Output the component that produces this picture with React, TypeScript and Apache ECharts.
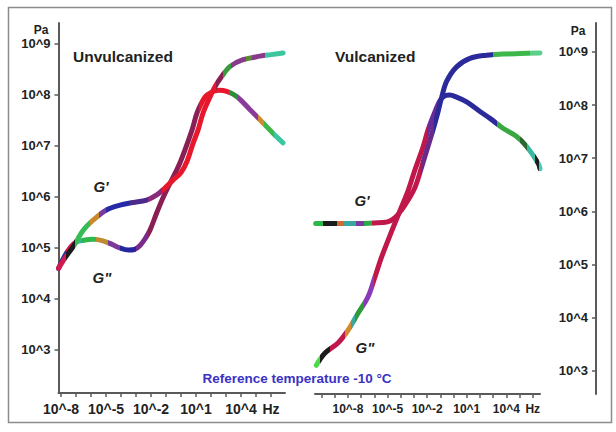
import React, { useEffect, useRef } from 'react';
import * as echarts from 'echarts';

// All values are exponents: [log10(frequency / Hz), log10(modulus / Pa)].
const unvulcGp: [number, number][] = [
  [-8.17, 4.6], [-7.7, 4.82], [-7.18, 5.03], [-6.51, 5.35], [-5.85, 5.55], [-4.95, 5.75],
  [-4.07, 5.84], [-3.2, 5.89], [-2.29, 5.94], [-1.62, 6.04], [-1.07, 6.18], [-0.53, 6.33],
  [0.0, 6.48], [0.4, 6.7], [0.8, 7.05], [1.13, 7.31], [1.47, 7.65], [1.93, 7.96], [2.3, 8.18],
  [2.71, 8.36], [3.27, 8.56], [4.13, 8.69], [5.27, 8.76], [6.0, 8.79], [6.8, 8.82],
];
const unvulcGpp: [number, number][] = [
  [-8.17, 4.6], [-7.6, 4.92], [-7.07, 5.1], [-6.5, 5.15], [-5.85, 5.17], [-5.2, 5.14],
  [-4.6, 5.07], [-4.07, 5.0], [-3.5, 4.96], [-3.1, 4.97], [-2.73, 5.05], [-2.4, 5.18],
  [-2.07, 5.35], [-1.62, 5.69], [-1.18, 6.0], [-0.73, 6.27], [-0.07, 6.67], [0.73, 7.31],
  [1.07, 7.65], [1.6, 7.96], [2.0, 8.05], [2.5, 8.09], [3.05, 8.07], [3.71, 7.97],
  [4.6, 7.71], [5.47, 7.45], [6.13, 7.25], [6.8, 7.06],
];
const vulcGp: [number, number][] = [
  [-10.45, 5.77], [-9.0, 5.77], [-7.5, 5.77], [-6.0, 5.78], [-5.0, 5.8], [-4.44, 5.88],
  [-3.93, 6.03], [-3.43, 6.22], [-2.92, 6.45], [-2.4, 6.85], [-1.94, 7.22], [-1.56, 7.53],
  [-1.2, 7.85], [-0.9, 8.15], [-0.52, 8.45], [0.23, 8.72], [1.24, 8.88], [2.5, 8.94],
  [3.76, 8.96], [5.0, 8.97], [6.55, 8.98],
];
const vulcGpp: [number, number][] = [
  [-10.4, 3.1], [-9.74, 3.33], [-8.76, 3.52], [-8.0, 3.76], [-7.24, 4.08], [-6.48, 4.39],
  [-5.95, 4.77], [-5.45, 5.14], [-4.95, 5.46], [-4.44, 5.78], [-3.93, 6.09], [-3.43, 6.4],
  [-2.9, 6.8], [-2.3, 7.22], [-1.94, 7.53], [-1.4, 7.88], [-1.0, 8.1], [-0.6, 8.18],
  [-0.3, 8.19], [0.23, 8.15], [0.99, 8.06], [2.0, 7.88], [2.76, 7.75], [3.77, 7.56],
  [4.78, 7.41], [5.54, 7.22], [6.42, 6.9], [6.55, 6.8],
];

// Axis ticks (exponents)
const xTicksLeft = [-8, -7, -6, -5, -4, -3, -2, -1, 0, 1, 2, 3, 4, 5, 6];
const xTicksRight = [-10, -9, -8, -7, -6, -5, -4, -3, -2, -1, 0, 1, 2, 3, 4, 5, 6];
const xLabelValues = [-8, -5, -2, 1, 4, 6];
const yTickValues = [3, 4, 5, 6, 7, 8, 9];

// Colour bands along each master curve: [from logf, to logf, colour]
const colUGp: [number, number, string][] = [
  [-20, -7.7, '#d21a4f'], [-7.7, -7.1, '#1c1c1c'], [-7.1, -6.1, '#36bb55'], [-6.1, -5.5, '#c98a2c'],
  [-5.5, -5.0, '#7a3aa0'], [-5.0, -3.4, '#262aa8'], [-3.4, -2.2, '#4a2a8a'], [-2.2, -1.3, '#8a2a7a'],
  [-1.3, 2.3, '#e8182c'], [2.3, 2.8, '#8a2050'], [2.8, 3.3, '#3a9a40'], [3.3, 4.3, '#8a3a8a'],
  [4.3, 4.7, '#5a8a30'], [4.7, 5.6, '#8a3a8a'], [5.6, 20, '#3cc6a0'],
];
const colUGpp: [number, number, string][] = [
  [-20, -7.7, '#2a2aa8'], [-7.7, -7.2, '#d21a4f'], [-7.2, -6.7, '#3ab8a0'], [-6.7, -5.7, '#2fb84a'],
  [-5.7, -4.9, '#c08a30'], [-4.9, -4.1, '#7a3a9a'], [-4.1, -3.0, '#2426a0'], [-3.0, -2.2, '#7a2a8a'],
  [-2.2, 1.2, '#8a1f55'], [1.2, 3.2, '#e8182c'], [3.2, 3.8, '#2e8f3a'], [3.8, 5.1, '#8a3a9a'],
  [5.1, 5.5, '#d08a30'], [5.5, 6.2, '#3cb84a'], [6.2, 20, '#3cc6a0'],
];
const colVGp: [number, number, string][] = [
  [-20, -9.9, '#2fb84a'], [-9.9, -8.8, '#1c1c1c'], [-8.8, -8.3, '#d06a30'], [-8.3, -7.4, '#3aa8a0'],
  [-7.4, -6.8, '#7a3aa0'], [-6.8, -6.2, '#2fa84a'], [-6.2, -2.5, '#c0184a'], [-2.5, -1.5, '#6a2a8a'],
  [-1.5, 3.0, '#2a2a9a'], [3.0, 5.8, '#3cb84a'], [5.8, 20, '#5cd08a'],
];
const colVGpp: [number, number, string][] = [
  [-20, -10.1, '#4cd84a'], [-10.1, -9.4, '#1c1c1c'], [-9.4, -8.2, '#c0184a'], [-8.2, -7.8, '#d08a30'],
  [-7.8, -7.5, '#3aa8a0'], [-7.5, -6.8, '#2e9a3a'], [-6.8, -6.0, '#8a3ab4'], [-6.0, -2.0, '#c0184a'],
  [-2.0, -1.0, '#6a2a9a'], [-1.0, 3.3, '#2a2a9a'], [3.3, 5.0, '#3aa840'], [5.0, 5.6, '#2a6a30'],
  [5.6, 6.2, '#3ab8a0'], [6.2, 6.5, '#1c1c1c'], [6.5, 20, '#4ac8c0'],
];

const FONT = '"Liberation Sans", Arial, Helvetica, sans-serif';
const AXIS_COLOR = '#5a5a5a';
const LABEL_COLOR = '#222';

const fmtX = (v: number) => (v === 6 ? 'Hz' : '10^' + v);
const fmtY = (v: number) => '10^' + v;

export default function App() {
  const ref = useRef<HTMLDivElement>(null);
  useEffect(() => {
    if (!ref.current) return;
    const chart = echarts.init(ref.current, undefined, { renderer: 'svg' });

    const axisLine = { show: true, onZero: false, lineStyle: { color: AXIS_COLOR, width: 2 } };
    const tickStyle = { color: AXIS_COLOR, width: 1.5 };

    const curves = [
      { data: unvulcGpp, cols: colUGpp, grid: 0 },
      { data: unvulcGp, cols: colUGp, grid: 0 },
      { data: vulcGpp, cols: colVGpp, grid: 1 },
      { data: vulcGp, cols: colVGp, grid: 1 },
    ];

    const text = (x: number, y: number, t: string, size: number, opts: any = {}) => ({
      type: 'text',
      x,
      y,
      silent: true,
      style: {
        text: t,
        font: `${opts.italic ? 'italic ' : ''}bold ${size}px ${FONT}`,
        fill: opts.fill || LABEL_COLOR,
        align: opts.align || 'center',
        verticalAlign: 'middle',
      },
    });

    chart.setOption({
      animation: false,
      backgroundColor: '#fff',
      grid: [
        { left: 58.5, top: 23, width: 226.5, height: 370, containLabel: false },
        { left: 315, top: 23, width: 225, height: 371, containLabel: false },
      ],
      xAxis: [
        {
          gridIndex: 0,
          type: 'value',
          min: -8.17,
          max: 6.93,
          axisLine,
          axisTick: { show: true, customValues: xTicksLeft, length: 4, lineStyle: tickStyle },
          axisLabel: {
            customValues: xLabelValues,
            formatter: fmtX,
            fontSize: 14,
            fontWeight: 'bold',
            fontFamily: FONT,
            color: LABEL_COLOR,
            margin: 9,
          },
          splitLine: { show: false },
        },
        {
          gridIndex: 1,
          type: 'value',
          min: -10.5,
          max: 6.55,
          axisLine,
          axisTick: { show: true, customValues: xTicksRight, length: 4, lineStyle: tickStyle },
          axisLabel: {
            customValues: xLabelValues,
            formatter: fmtX,
            fontSize: 12,
            fontWeight: 'bold',
            fontFamily: FONT,
            color: LABEL_COLOR,
            margin: 9,
          },
          splitLine: { show: false },
        },
      ],
      yAxis: [
        {
          gridIndex: 0,
          type: 'value',
          position: 'left',
          min: 2.157,
          max: 9.41,
          axisLine,
          axisTick: { show: true, customValues: yTickValues, length: 4, lineStyle: tickStyle },
          axisLabel: {
            customValues: yTickValues,
            formatter: fmtY,
            fontSize: 13,
            fontWeight: 'bold',
            fontFamily: FONT,
            color: LABEL_COLOR,
            margin: 8,
          },
          splitLine: { show: false },
        },
        {
          gridIndex: 1,
          type: 'value',
          position: 'right',
          offset: 56,
          min: 2.559,
          max: 9.546,
          axisLine,
          axisTick: { show: true, inside: true, customValues: yTickValues, length: 4, lineStyle: tickStyle },
          axisLabel: {
            inside: true,
            customValues: yTickValues,
            formatter: fmtY,
            fontSize: 13,
            fontWeight: 'bold',
            fontFamily: FONT,
            color: LABEL_COLOR,
            margin: 8,
          },
          splitLine: { show: false },
        },
      ],
      visualMap: curves.map((c, i) => ({
        type: 'piecewise',
        show: false,
        seriesIndex: i,
        dimension: 0,
        pieces: c.cols.map(([a, b, col]) => ({ gte: a, lt: b, color: col })),
      })),
      series: curves.map((c) => ({
        type: 'line',
        xAxisIndex: c.grid,
        yAxisIndex: c.grid,
        data: c.data,
        symbol: 'none',
        showSymbol: false,
        smooth: 0.35,
        lineStyle: { width: 5, cap: 'round', join: 'round' },
        silent: true,
      })),
      graphic: [
        {
          type: 'rect',
          silent: true,
          shape: { x: 8.5, y: 7.5, width: 603, height: 415 },
          style: { fill: 'none', stroke: '#8c8c8c', lineWidth: 1.5 },
        },
        text(41, 29.5, 'Pa', 12),
        text(578, 31, 'Pa', 12),
        text(73, 56, 'Unvulcanized', 15.5, { align: 'left' }),
        text(335, 56, 'Vulcanized', 15.5, { align: 'left' }),
        text(101, 186, "G'", 15, { italic: true }),
        text(102, 277, 'G"', 15, { italic: true }),
        text(362, 200, "G'", 15, { italic: true }),
        text(365, 347, 'G"', 15, { italic: true }),
        text(297, 378, 'Reference temperature -10 °C', 13.5, { fill: '#3b32c4' }),
      ],
    });

    return () => chart.dispose();
  }, []);

  return (
    <div
      ref={ref}
      style={{ position: 'fixed', left: 0, top: 0, width: 616, height: 432, background: '#fff' }}
    />
  );
}
